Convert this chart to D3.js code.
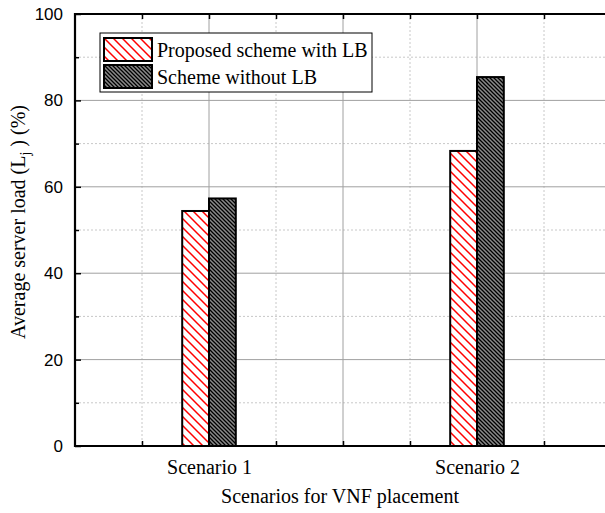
<!DOCTYPE html>
<html>
<head>
<meta charset="utf-8">
<script src="https://cdn.jsdelivr.net/npm/d3@7"></script>
<style>
  html, body { margin: 0; padding: 0; background: #fff; }
  svg { display: block; }
</style>
</head>
<body>
<div id="chart"></div>
<script>
// chart data
var scenarios = ['Scenario 1', 'Scenario 2'];
var scenarioPos = [1, 3];
var seriesNames = ['Proposed scheme with LB', 'Scheme without LB'];
var withLB = [54.4, 68.3];
var withoutLB = [57.3, 85.4];
var yTicks = [0, 20, 40, 60, 80, 100];
var yMinor = [10, 30, 50, 70, 90];
var xMajor = [0, 1, 2, 3, 4];
var xMinor = [0.5, 1.5, 2.5, 3.5];

var width = 605, height = 513;
var margin = {left: 75, top: 14, bottom: 446};

var svg = d3.select('#chart').append('svg')
    .attr('width', width)
    .attr('height', height);

var x = d3.scaleLinear().domain([0, 4]).range([margin.left, 611]);
var y = d3.scaleLinear().domain([0, 100]).range([margin.bottom, margin.top]);

// hatch patterns
var defs = svg.append('defs');
var redHatch = defs.append('pattern')
    .attr('id', 'redHatch')
    .attr('patternUnits', 'userSpaceOnUse')
    .attr('width', 9).attr('height', 9);
redHatch.append('rect').attr('width', 9).attr('height', 9).attr('fill', '#fff');
redHatch.append('path')
    .attr('d', 'M-1,-1 L10,10 M-2,7 L2,11 M7,-2 L11,2')
    .attr('stroke', '#ff0000')
    .attr('stroke-width', 1.5);

var greyHatch = defs.append('pattern')
    .attr('id', 'greyHatch')
    .attr('patternUnits', 'userSpaceOnUse')
    .attr('width', 4).attr('height', 4);
greyHatch.append('rect').attr('width', 4).attr('height', 4).attr('fill', '#8a8a8a');
greyHatch.append('path')
    .attr('d', 'M-1,-1 L5,5 M-2,2 L2,6 M2,-2 L6,2')
    .attr('stroke', '#000')
    .attr('stroke-width', 1.3);

var clip = defs.append('clipPath').attr('id', 'plotClip');
clip.append('rect')
    .attr('x', margin.left).attr('y', margin.top)
    .attr('width', width - margin.left).attr('height', margin.bottom - margin.top);

// grid
var grid = svg.append('g').attr('clip-path', 'url(#plotClip)');

grid.selectAll('.ymin').data(yMinor).enter().append('line')
    .attr('x1', margin.left).attr('x2', width)
    .attr('y1', function(d) { return y(d); })
    .attr('y2', function(d) { return y(d); })
    .attr('stroke', '#c8c8c8').attr('stroke-dasharray', '2,2');

grid.selectAll('.xmin').data(xMinor).enter().append('line')
    .attr('y1', margin.top).attr('y2', margin.bottom)
    .attr('x1', function(d) { return x(d); })
    .attr('x2', function(d) { return x(d); })
    .attr('stroke', '#c8c8c8').attr('stroke-dasharray', '2,2');

grid.selectAll('.ymaj').data(yTicks.slice(1, -1)).enter().append('line')
    .attr('x1', margin.left).attr('x2', width)
    .attr('y1', function(d) { return y(d); })
    .attr('y2', function(d) { return y(d); })
    .attr('stroke', '#a0a0a0').attr('stroke-width', 1);

grid.selectAll('.xmaj').data([1, 2, 3]).enter().append('line')
    .attr('y1', margin.top).attr('y2', margin.bottom)
    .attr('x1', function(d) { return x(d); })
    .attr('x2', function(d) { return x(d); })
    .attr('stroke', '#a0a0a0').attr('stroke-width', 1);

// bars
var barW = 0.2;
var bars = svg.append('g');

bars.selectAll('.b1').data(withLB).enter().append('rect')
    .attr('x', function(d, i) { return x(scenarioPos[i] - barW); })
    .attr('width', function() { return x(barW) - x(0); })
    .attr('y', function(d) { return y(d); })
    .attr('height', function(d) { return y(0) - y(d); })
    .attr('fill', 'url(#redHatch)')
    .attr('stroke', '#000').attr('stroke-width', 2);

bars.selectAll('.b2').data(withoutLB).enter().append('rect')
    .attr('x', function(d, i) { return x(scenarioPos[i]); })
    .attr('width', function() { return x(barW) - x(0); })
    .attr('y', function(d) { return y(d); })
    .attr('height', function(d) { return y(0) - y(d); })
    .attr('fill', 'url(#greyHatch)')
    .attr('stroke', '#000').attr('stroke-width', 2);

// axes
function styleAxis(g) {
    g.select('.domain').remove();
    g.selectAll('.tick line').attr('stroke', '#000').attr('stroke-width', 1.5);
}

svg.append('g')
    .attr('transform', 'translate(' + margin.left + ',0)')
    .call(d3.axisLeft(y).tickValues(yTicks).tickSize(-6).tickPadding(12))
    .call(styleAxis)
    .selectAll('text')
    .attr('font-family', 'Liberation Sans, Arial, sans-serif')
    .attr('font-size', 17)
    .attr('fill', '#000');

svg.append('g')
    .attr('transform', 'translate(' + margin.left + ',0)')
    .call(d3.axisLeft(y).tickValues(yMinor).tickSize(-4).tickFormat(''))
    .call(styleAxis);

svg.append('g')
    .attr('transform', 'translate(0,' + margin.bottom + ')')
    .call(d3.axisBottom(x).tickValues(scenarioPos).tickSize(0).tickPadding(14)
        .tickFormat(function(d, i) { return scenarios[i]; }))
    .call(styleAxis)
    .selectAll('text')
    .attr('font-family', 'Liberation Serif, Times New Roman, serif')
    .attr('font-size', 20)
    .attr('fill', '#000');

[margin.bottom, margin.top].forEach(function(py) {
    var ax = py === margin.bottom ? d3.axisTop(x) : d3.axisBottom(x);
    svg.append('g')
        .attr('transform', 'translate(0,' + py + ')')
        .call(ax.tickValues(xMajor.concat(xMinor).filter(function(v) { return v > 0; }))
            .tickSize(5).tickFormat(''))
        .call(styleAxis);
});

// axis lines
svg.append('line')
    .attr('x1', margin.left).attr('x2', margin.left)
    .attr('y1', margin.top - 1).attr('y2', margin.bottom + 1)
    .attr('stroke', '#000').attr('stroke-width', 2.2);
svg.append('line')
    .attr('x1', margin.left - 1).attr('x2', width)
    .attr('y1', margin.bottom).attr('y2', margin.bottom)
    .attr('stroke', '#000').attr('stroke-width', 2.2);
svg.append('line')
    .attr('x1', margin.left - 1).attr('x2', width)
    .attr('y1', margin.top).attr('y2', margin.top)
    .attr('stroke', '#000').attr('stroke-width', 2.2);

// legend
var legend = svg.append('g').attr('transform', 'translate(100,33)');
legend.append('rect')
    .attr('width', 272).attr('height', 59)
    .attr('fill', '#fff').attr('stroke', '#000').attr('stroke-width', 1);

var fills = ['url(#redHatch)', 'url(#greyHatch)'];
var items = legend.selectAll('.item').data(seriesNames).enter().append('g')
    .attr('transform', function(d, i) { return 'translate(4,' + (5 + i * 27) + ')'; });
items.append('rect')
    .attr('width', 48).attr('height', 23)
    .attr('fill', function(d, i) { return fills[i]; })
    .attr('stroke', '#000').attr('stroke-width', 2);
items.append('text')
    .attr('x', 53).attr('y', 19)
    .attr('font-family', 'Liberation Serif, Times New Roman, serif')
    .attr('font-size', 20)
    .attr('fill', '#000')
    .text(function(d) { return d; });

// axis titles
svg.append('text')
    .attr('x', 340).attr('y', 503)
    .attr('text-anchor', 'middle')
    .attr('font-family', 'Liberation Serif, Times New Roman, serif')
    .attr('font-size', 20)
    .text('Scenarios for VNF placement');

var yTitle = svg.append('text')
    .attr('transform', 'translate(25,222) rotate(-90)')
    .attr('text-anchor', 'middle')
    .attr('font-family', 'Liberation Serif, Times New Roman, serif')
    .attr('font-size', 20);
yTitle.append('tspan').text('Average server load (L');
yTitle.append('tspan').attr('dy', 5).attr('font-size', 14).text('j');
yTitle.append('tspan').attr('dy', -5).text(' ) (%)');
</script>
</body>
</html>
